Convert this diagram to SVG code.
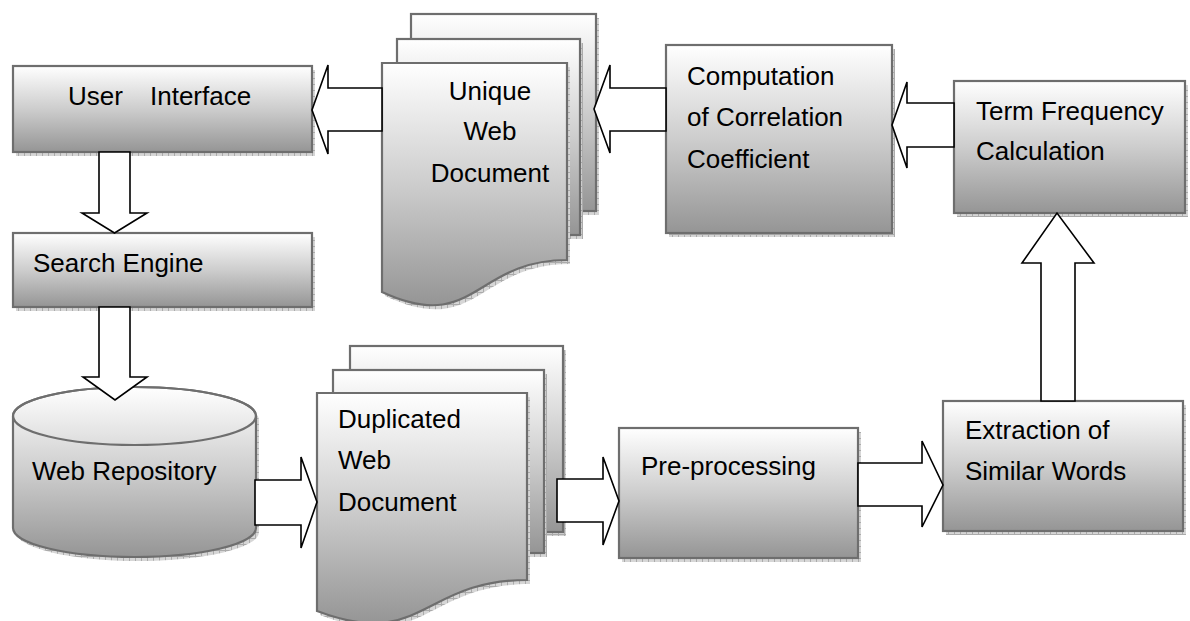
<svg xmlns="http://www.w3.org/2000/svg" width="1190" height="621" viewBox="0 0 1190 621">
<defs>
<linearGradient id="g" x1="0" y1="0" x2="0" y2="1">
<stop offset="0" stop-color="#ffffff"/>
<stop offset="0.5" stop-color="#cdcdcd"/>
<stop offset="1" stop-color="#959595"/>
</linearGradient>
<pattern id="hatch" width="6" height="6" patternUnits="userSpaceOnUse">
<rect width="6" height="6" fill="#d6d6d6"/>
<path d="M0,0.5H6M0.5,0V6" stroke="#ababab" stroke-width="1"/>
</pattern>
</defs>
<style>
.box{fill:url(#g);stroke:#6e6e6e;stroke-width:2.2}
.sh{fill:url(#hatch);stroke:none}
.t{font-family:"Liberation Sans",Arial,sans-serif;font-size:26px;fill:#000}
.arr{fill:#fff;stroke:#000;stroke-width:1.6;stroke-linejoin:miter}
</style>
<rect width="1190" height="621" fill="#fff"/>

<g id="user-interface">
<rect class="sh" x="16" y="70" width="299" height="86"/>
<rect class="box" x="13" y="66" width="299" height="86"/>
<text class="t" y="105"><tspan x="68">User</tspan><tspan x="150">Interface</tspan></text>
</g>

<g id="search-engine">
<rect class="sh" x="16" y="237" width="299" height="74"/>
<rect class="box" x="13" y="233" width="299" height="74"/>
<text class="t" x="33" y="272">Search Engine</text>
</g>

<g id="web-repository">
<path class="sh" transform="translate(3,4)" d="M13,416 A121.5,29 0 0 1 256,416 V528 A121.5,29 0 0 1 13,528 Z"/>
<path class="box" d="M13,416 A121.5,29 0 0 1 256,416 V528 A121.5,29 0 0 1 13,528 Z"/>
<ellipse cx="134.5" cy="416" rx="121.5" ry="29" fill="none" stroke="#6e6e6e" stroke-width="2.2"/>
<text class="t" x="32" y="480">Web Repository</text>
</g>

<g id="unique-web-document">
<rect class="sh" x="414" y="18" width="185" height="197"/>
<rect class="box" x="411" y="14" width="185" height="197"/>
<rect class="sh" x="400" y="43" width="183" height="196"/>
<rect class="box" x="397" y="39" width="183" height="196"/>
<path class="sh" transform="translate(3,4)" d="M382,63 H567 V260 C474.5,260 474.5,335 382,292 Z"/>
<path class="box" d="M382,63 H567 V260 C474.5,260 474.5,335 382,292 Z"/>
<text class="t" text-anchor="middle"><tspan x="490" y="100">Unique</tspan><tspan x="490" y="140">Web</tspan><tspan x="490" y="182">Document</tspan></text>
</g>

<g id="computation">
<rect class="sh" x="669" y="49" width="226" height="188"/>
<rect class="box" x="666" y="45" width="226" height="188"/>
<text class="t"><tspan x="687" y="85">Computation</tspan><tspan x="687" y="126">of Correlation</tspan><tspan x="687" y="168">Coefficient</tspan></text>
</g>

<g id="term-frequency">
<rect class="sh" x="957" y="85" width="231" height="132"/>
<rect class="box" x="954" y="81" width="231" height="132"/>
<text class="t"><tspan x="976" y="120">Term Frequency</tspan><tspan x="976" y="160">Calculation</tspan></text>
</g>

<g id="duplicated-web-document">
<rect class="sh" x="353" y="350" width="213" height="186"/>
<rect class="box" x="350" y="346" width="213" height="186"/>
<rect class="sh" x="336" y="374" width="211" height="183"/>
<rect class="box" x="333" y="370" width="211" height="183"/>
<path class="sh" transform="translate(3,4)" d="M317,393 H527 V580 C422,580 422,651 317,611 Z"/>
<path class="box" d="M317,393 H527 V580 C422,580 422,651 317,611 Z"/>
<text class="t"><tspan x="338" y="428">Duplicated</tspan><tspan x="338" y="469">Web</tspan><tspan x="338" y="511">Document</tspan></text>
</g>

<g id="pre-processing">
<rect class="sh" x="622" y="432" width="239" height="130"/>
<rect class="box" x="619" y="428" width="239" height="130"/>
<text class="t" x="641" y="475">Pre-processing</text>
</g>

<g id="extraction">
<rect class="sh" x="946" y="405" width="240" height="130"/>
<rect class="box" x="943" y="401" width="240" height="130"/>
<text class="t"><tspan x="965" y="439">Extraction of</tspan><tspan x="965" y="480">Similar Words</tspan></text>
</g>

<g id="connectors">
<polygon class="arr" points="99,152 130,152 130,213 147,213 114.5,233 82,213 99,213"/>
<polygon class="arr" points="99,307 130,307 130,377 147,377 115,400 83,377 99,377"/>
<polygon class="arr" points="255,480 301,480 301,457 317,502 301,548 301,525 255,525"/>
<polygon class="arr" points="557,479 603,479 603,457 619,501 603,545 603,522 557,522"/>
<polygon class="arr" points="858,463 922,463 922,441 943,485 922,527 922,506 858,506"/>
<polygon class="arr" points="1041,401 1041,263 1022,263 1057,213 1094,263 1075,263 1075,401"/>
<polygon class="arr" points="954,103 907,103 907,82 892,125 907,168 907,147 954,147"/>
<polygon class="arr" points="666,88 610,88 610,65 594,109 610,153 610,131 666,131"/>
<polygon class="arr" points="382,88 328,88 328,65 312,110 328,154 328,131 382,131"/>
</g>
</svg>
